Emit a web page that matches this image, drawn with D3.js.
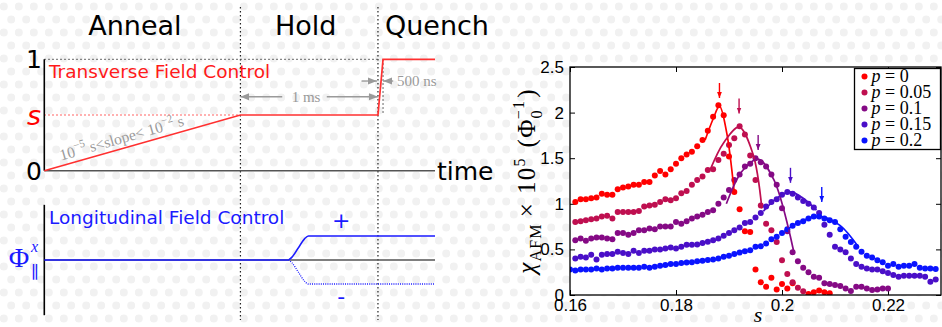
<!DOCTYPE html>
<html>
<head>
<meta charset="utf-8">
<script src="https://cdn.jsdelivr.net/npm/d3@7"></script>
<style>
  body { margin: 0; background: #fff; }
  svg { display: block; }
</style>
</head>
<body>
<div id="chart"></div>
<script>
// ---------- left: schematic protocol ----------
const phaseNames = ['Anneal', 'Hold', 'Quench'];
const phaseCenters = [23.2, 66.9, 100.5];
const phaseBounds = [50.2, 85.4];
const quenchEnd = 86.7;
const sLevel = 0.5;
const transverseT = [0, 50.2, 85.4, 86.7, 100];
const transverseS = [0, 0.5, 0.5, 1, 1];
const splitT = [62.5, 63.4, 65, 66.6, 67.6, 100];
const splitPhi = [0, 0.12, 0.5, 0.88, 1, 1];
const levelLabels = ['1', 's', '0'];
const levelValues = [1, 0.5, 0];

// ---------- right: susceptibility vs s ----------
const sStep = 0.001;
const pLabels = ['0', '0.05', '0.1', '0.15', '0.2'];
const seriesColors = ['#ff0000', '#bf0f50', '#850a85', '#4a0fc8', '#0a14ff'];
const seriesStart = [0.161, 0.161, 0.161, 0.161, 0.160];
const chiP0 = [1.02,1.05,1.05,1.06,1.07,1.11,1.10,1.10,1.16,1.18,
  1.19,1.21,1.21,1.24,1.24,1.31,1.36,1.32,1.38,1.44,
  1.50,1.54,1.57,1.63,1.70,1.80,1.955,2.08,1.97,1.52,
  1.13,0.94,0.70,0.69,0.28,0.14,0.09,0.19,0.06,0.12,
  0.07,0.13,null,null,0.01,0.03,0.05,0.03,0.02];
const chiP005 = [0.80,0.81,0.82,0.83,0.84,0.86,0.87,0.84,0.91,0.91,
  0.91,0.91,0.92,0.97,0.98,0.99,1.02,1.05,1.04,1.06,
  1.115,1.14,1.21,1.26,1.30,1.37,1.38,1.48,1.55,1.645,
  1.72,1.85,1.76,1.53,1.26,0.98,0.78,0.71,0.58,0.38,
  0.23,0.14,0.08,0.04];
const chiP01 = [0.60,0.62,0.595,0.62,0.63,0.63,0.62,0.61,0.68,0.68,
  0.66,0.68,0.71,0.71,0.73,0.72,0.75,0.75,0.75,0.80,
  0.78,0.81,0.84,0.86,0.88,0.91,0.93,1.00,1.07,1.15,
  1.26,1.32,1.41,1.44,1.50,1.455,1.41,1.32,1.21,0.95,
  0.70,0.47,0.37,0.30,0.25,0.20,0.19,0.13,0.12,0.11,
  0.10,0.07,0.045,0.09,0.09,0.07,0.055,0.06,0.07,0.07];
const chiP015 = [0.40,0.42,0.41,0.44,0.39,0.44,0.45,0.45,0.475,0.46,
  0.45,0.485,0.46,0.485,0.485,0.50,0.50,0.51,0.52,0.51,
  0.53,0.55,0.55,0.555,0.57,0.585,0.60,0.62,0.65,0.68,
  0.71,0.74,0.79,0.80,0.85,0.90,0.97,1.02,1.05,1.10,
  1.13,1.11,1.07,1.03,1.00,0.96,0.90,0.77,0.66,0.53,
  0.50,0.47,0.40,0.34,0.31,0.29,0.28,0.28,0.26,0.24,
  0.22,0.20,0.21,0.21,0.21,0.21,0.20,0.145,0.17];
const chiP02 = [0.28,0.27,0.28,0.28,0.28,0.29,0.28,0.29,0.29,0.30,
  0.30,0.30,0.30,0.30,0.31,0.30,0.31,0.32,0.33,0.34,
  0.34,0.35,0.355,0.36,0.37,0.375,0.385,0.39,0.40,0.42,
  0.43,0.45,0.465,0.48,0.49,0.53,0.535,0.565,0.61,0.64,
  0.68,0.72,0.76,0.79,0.81,0.84,0.86,0.86,0.84,0.82,
  0.80,0.72,0.64,0.58,0.53,0.475,0.43,0.41,0.38,0.36,
  0.32,0.34,0.31,0.32,0.32,0.34,0.30,0.29,0.29,0.285];
const chiSeries = [chiP0, chiP005, chiP01, chiP015, chiP02];

// fitted curves near each peak, [s, chi]
const fitP0 = [[0.1855, 1.70], [0.187, 1.93], [0.1882, 2.07], [0.1895, 1.80], [0.191, 1.12]];
const fitP005 = [[0.1865, 1.38], [0.189, 1.67], [0.1919, 1.84], [0.1945, 1.55], [0.1962, 0.95]];
const fitP01 = [[0.1895, 1.0], [0.1925, 1.36], [0.1955, 1.49], [0.1985, 1.26], [0.2022, 0.48]];
const fitP015 = [[0.1965, 0.92], [0.199, 1.06], [0.2015, 1.13], [0.204, 1.06], [0.2065, 0.93]];
const fitP02 = [[0.2005, 0.70], [0.204, 0.82], [0.2075, 0.86], [0.211, 0.76], [0.2145, 0.52]];
const fits = [fitP0, fitP005, fitP01, fitP015, fitP02];

const peakS = [0.1882, 0.1919, 0.1955, 0.2016, 0.2075];
const arrowTip = [2.16, 1.99, 1.59, 1.23, 1.02];

const xTicks = [0.16, 0.18, 0.2, 0.22];
const yTicks = [0, 0.5, 1, 1.5, 2, 2.5];

const W = 942, H = 327;
const sans = 'DejaVu Sans, sans-serif';
const serif = 'Liberation Serif, DejaVu Serif, serif';
const tickFont = 'Liberation Sans, Arial, sans-serif';

const svg = d3.select('#chart').append('svg').attr('width', W).attr('height', H);
const defs = svg.append('defs');

// faint polka-dot paper
const pat = defs.append('pattern').attr('id', 'dots').attr('patternUnits', 'userSpaceOnUse')
  .attr('width', 15).attr('height', 26);
pat.append('circle').attr('cx', 3.75).attr('cy', 6.5).attr('r', 4).attr('fill', '#f1f1f1');
pat.append('circle').attr('cx', 11.25).attr('cy', 19.5).attr('r', 4).attr('fill', '#f1f1f1');
svg.append('rect').attr('width', W).attr('height', H).attr('fill', '#fff');
svg.append('rect').attr('width', W).attr('height', H).attr('fill', 'url(#dots)');

function arrowMarker(id, color, size) {
  defs.append('marker').attr('id', id).attr('viewBox', '0 0 10 10')
    .attr('refX', 10).attr('refY', 5).attr('markerUnits', 'userSpaceOnUse')
    .attr('markerWidth', size).attr('markerHeight', size).attr('orient', 'auto')
    .append('path').attr('d', 'M0,1 L10,5 L0,9 Z').attr('fill', color);
}
arrowMarker('grayHead', '#9a9a9a', 9);

// ================= LEFT PANEL =================
const tX = d3.scaleLinear().domain([0, 100]).range([44.3, 435]);
const sY = d3.scaleLinear().domain([0, 1]).range([170.7, 59.3]);
const phiY = d3.scaleLinear().domain([-1, 1]).range([284, 236]);
const L = svg.append('g');
const dotted = '1.4,2.6';

L.selectAll('.phase').data(phaseNames).enter().append('text')
  .attr('x', (d, i) => tX(phaseCenters[i])).attr('y', 35)
  .attr('text-anchor', 'middle').attr('font-family', sans).attr('font-size', 27)
  .text(d => d);

L.selectAll('.bound').data(phaseBounds).enter().append('line')
  .attr('x1', d => tX(d)).attr('x2', d => tX(d)).attr('y1', 7).attr('y2', 320)
  .attr('stroke', '#222').attr('stroke-width', 1.2).attr('stroke-dasharray', dotted);

// reference dotted levels
L.append('line').attr('x1', tX(0)).attr('x2', tX(phaseBounds[1])).attr('y1', sY(1)).attr('y2', sY(1))
  .attr('stroke', '#555').attr('stroke-width', 1.2).attr('stroke-dasharray', dotted);
L.append('line').attr('x1', tX(quenchEnd)).attr('x2', tX(quenchEnd)).attr('y1', sY(1)).attr('y2', sY(sLevel))
  .attr('stroke', '#555').attr('stroke-width', 1.2).attr('stroke-dasharray', dotted);
L.append('line').attr('x1', tX(0)).attr('x2', tX(phaseBounds[0])).attr('y1', sY(sLevel)).attr('y2', sY(sLevel))
  .attr('stroke', '#ff2020').attr('stroke-width', 1.2).attr('stroke-dasharray', dotted);

// axes (top)
L.append('line').attr('x1', tX(0)).attr('x2', tX(100)).attr('y1', sY(0)).attr('y2', sY(0))
  .attr('stroke', '#555').attr('stroke-width', 1.6);
L.append('line').attr('x1', tX(0)).attr('x2', tX(0)).attr('y1', sY(0)).attr('y2', sY(1))
  .attr('stroke', '#000').attr('stroke-width', 1.6);

// transverse schedule
const tsLine = d3.line().x(d => tX(d[0])).y(d => sY(d[1]));
L.append('path').attr('d', tsLine(d3.zip(transverseT, transverseS)))
  .attr('fill', 'none').attr('stroke', '#ff3030').attr('stroke-width', 1.7);

L.selectAll('.lvl').data(levelLabels).enter().append('text')
  .attr('x', 34).attr('y', (d, i) => sY(levelValues[i]))
  .attr('dy', '0.36em').attr('text-anchor', 'middle')
  .attr('font-family', sans).attr('font-size', (d) => d === 's' ? 27 : 25)
  .attr('font-style', d => d === 's' ? 'italic' : 'normal')
  .attr('fill', d => d === 's' ? '#ff0000' : '#000')
  .text(d => d);

L.append('text').attr('x', 49).attr('y', 78).attr('font-family', sans).attr('font-size', 18.5)
  .attr('fill', '#ff1a1a').text('Transverse Field Control');

// slope annotation along the ramp
const ang = Math.atan2(sY(transverseS[1]) - sY(0), tX(transverseT[1]) - tX(0)) * 180 / Math.PI;
const slope = L.append('text').attr('transform', `translate(123,143) rotate(${ang})`)
  .attr('text-anchor', 'middle').attr('font-family', serif).attr('font-size', 15.5).attr('fill', '#9a9a9a');
slope.append('tspan').text('10');
slope.append('tspan').attr('dy', -7).attr('font-size', 11).text('−5');
slope.append('tspan').attr('dy', 7).text(' s<slope< 10');
slope.append('tspan').attr('dy', -7).attr('font-size', 11).text('−2');
slope.append('tspan').attr('dy', 7).text(' s');

// 1 ms hold duration
const msY = sY(0.664);
L.append('line').attr('x1', tX(60.9)).attr('x2', tX(phaseBounds[0])).attr('y1', msY).attr('y2', msY)
  .attr('stroke', '#9a9a9a').attr('stroke-width', 1.4).attr('marker-end', 'url(#grayHead)');
L.append('line').attr('x1', tX(72.3)).attr('x2', tX(phaseBounds[1])).attr('y1', msY).attr('y2', msY)
  .attr('stroke', '#9a9a9a').attr('stroke-width', 1.4).attr('marker-end', 'url(#grayHead)');
L.append('text').attr('x', tX(67)).attr('y', msY + 5).attr('text-anchor', 'middle')
  .attr('font-family', serif).attr('font-size', 15).attr('fill', '#9a9a9a').text('1 ms');

// 500 ns quench duration
const nsY = sY(0.805);
L.append('line').attr('x1', tX(81.2)).attr('x2', tX(phaseBounds[1]) - 1).attr('y1', nsY).attr('y2', nsY)
  .attr('stroke', '#9a9a9a').attr('stroke-width', 1.4).attr('marker-end', 'url(#grayHead)');
L.append('line').attr('x1', tX(89.3)).attr('x2', tX(quenchEnd)).attr('y1', nsY).attr('y2', nsY)
  .attr('stroke', '#9a9a9a').attr('stroke-width', 1.4).attr('marker-end', 'url(#grayHead)');
L.append('text').attr('x', tX(90.3)).attr('y', nsY + 5)
  .attr('font-family', serif).attr('font-size', 15).attr('fill', '#9a9a9a').text('500 ns');

L.append('text').attr('x', tX(100) + 2).attr('y', sY(0)).attr('dy', '0.36em')
  .attr('font-family', sans).attr('font-size', 25).text('time');

// bottom: longitudinal field
L.append('line').attr('x1', tX(0)).attr('x2', tX(100)).attr('y1', phiY(0)).attr('y2', phiY(0))
  .attr('stroke', '#555').attr('stroke-width', 1.6);
L.append('line').attr('x1', tX(0)).attr('x2', tX(0)).attr('y1', phiY(-2.3)).attr('y2', phiY(2.3))
  .attr('stroke', '#000').attr('stroke-width', 1.6);
L.append('path').attr('d', tsLine.y(d => phiY(d[1]))([[0, 0], [splitT[0], 0]]))
  .attr('fill', 'none').attr('stroke', '#1a1aff').attr('stroke-width', 1.7);
const phiLine = d3.line().x(d => tX(d[0])).y(d => phiY(d[1])).curve(d3.curveMonotoneX);
L.append('path').attr('d', phiLine(d3.zip(splitT, splitPhi)))
  .attr('fill', 'none').attr('stroke', '#1a1aff').attr('stroke-width', 1.5);
L.append('path').attr('d', phiLine(d3.zip(splitT, splitPhi.map(v => -v))))
  .attr('fill', 'none').attr('stroke', '#1a1aff').attr('stroke-width', 1.3).attr('stroke-dasharray', '1,1.2');

L.append('text').attr('x', 49).attr('y', 223.5).attr('font-family', sans).attr('font-size', 18.5)
  .attr('fill', '#1a1aff').text('Longitudinal Field Control');
L.append('text').attr('x', tX(76)).attr('y', phiY(1.65)).attr('dy', '0.36em').attr('text-anchor', 'middle')
  .attr('font-family', sans).attr('font-size', 22).attr('fill', '#1a1aff').text('+');
L.append('text').attr('x', tX(76)).attr('y', phiY(-1.5)).attr('dy', '0.36em').attr('text-anchor', 'middle')
  .attr('font-family', sans).attr('font-size', 22).attr('fill', '#1a1aff').text('-');
L.append('text').attr('x', 19).attr('y', phiY(0) + 7).attr('text-anchor', 'middle')
  .attr('font-family', serif).attr('font-size', 28).attr('fill', '#1a1aff').text('Φ');
L.append('text').attr('x', 31).attr('y', phiY(0) - 8).attr('font-family', serif)
  .attr('font-style', 'italic').attr('font-size', 16).attr('fill', '#1a1aff').text('x');
L.append('text').attr('x', 31).attr('y', phiY(0) + 18).attr('font-family', serif)
  .attr('font-size', 17).attr('fill', '#1a1aff').text('∥');

// ================= RIGHT PANEL =================
const x = d3.scaleLinear().domain([0.16, 0.23]).range([570, 941]);
const y = d3.scaleLinear().domain([0, 2.5]).range([295, 67]);
const R = svg.append('g');

R.append('rect').attr('x', 570).attr('y', 67).attr('width', 371).attr('height', 228).attr('fill', '#fff');
defs.append('clipPath').attr('id', 'plotClip').append('rect')
  .attr('x', 570).attr('y', 67).attr('width', 371).attr('height', 228);

const fmt = d => String(+d.toFixed(2));
R.append('g').attr('transform', 'translate(0,295)')
  .call(d3.axisBottom(x).tickValues(xTicks).tickFormat(fmt).tickSizeInner(-5).tickSizeOuter(0).tickPadding(4))
  .call(g => g.select('.domain').remove())
  .call(g => g.selectAll('text').attr('font-family', tickFont).attr('font-size', 17).attr('fill', '#000'));
R.append('g').attr('transform', 'translate(0,67)')
  .call(d3.axisTop(x).tickValues(xTicks).tickFormat('').tickSizeInner(-5).tickSizeOuter(0))
  .call(g => g.select('.domain').remove());
R.append('g').attr('transform', 'translate(570,0)')
  .call(d3.axisLeft(y).tickValues(yTicks).tickFormat(fmt).tickSizeInner(-5).tickSizeOuter(0).tickPadding(6))
  .call(g => g.select('.domain').remove())
  .call(g => g.selectAll('text').attr('font-family', tickFont).attr('font-size', 17).attr('fill', '#000'));
R.append('g').attr('transform', 'translate(941,0)')
  .call(d3.axisRight(y).tickValues(yTicks).tickFormat('').tickSizeInner(-5).tickSizeOuter(0))
  .call(g => g.select('.domain').remove());

const plot = R.append('g').attr('clip-path', 'url(#plotClip)');
chiSeries.forEach((vals, k) => {
  const pts = vals.map((v, i) => [seriesStart[k] + i * sStep, v]).filter(d => d[1] !== null);
  plot.append('g').selectAll('circle').data(pts).enter().append('circle')
    .attr('cx', d => x(d[0])).attr('cy', d => y(d[1])).attr('r', 3)
    .attr('fill', seriesColors[k]);
});
const fitLine = d3.line().x(d => x(d[0])).y(d => y(d[1])).curve(d3.curveCatmullRom);
fits.forEach((f, k) => {
  plot.append('path').attr('d', fitLine(f)).attr('fill', 'none')
    .attr('stroke', seriesColors[k]).attr('stroke-width', 1.7);
});

// peak arrows
peakS.forEach((s, k) => {
  arrowMarker('head' + k, seriesColors[k], 6);
  R.append('line').attr('x1', x(s)).attr('x2', x(s))
    .attr('y1', y(arrowTip[k]) - 15).attr('y2', y(arrowTip[k]))
    .attr('stroke', seriesColors[k]).attr('stroke-width', 1.4)
    .attr('marker-end', `url(#head${k})`);
});

R.append('rect').attr('x', 570).attr('y', 67).attr('width', 371).attr('height', 228)
  .attr('fill', 'none').attr('stroke', '#000').attr('stroke-width', 1.3);

// legend
const leg = R.append('g').attr('transform', 'translate(854.5,68.5)');
leg.append('rect').attr('width', 86).attr('height', 81).attr('fill', '#fff')
  .attr('stroke', '#000').attr('stroke-width', 1.3);
const rows = leg.selectAll('.row').data(pLabels).enter().append('g')
  .attr('transform', (d, i) => `translate(0,${8 + i * 16})`);
rows.append('circle').attr('cx', 10).attr('cy', 0).attr('r', 3).attr('fill', (d, i) => seriesColors[i]);
const lt = rows.append('text').attr('x', 17).attr('y', 5.5).attr('font-family', serif).attr('font-size', 18);
lt.append('tspan').attr('font-style', 'italic').text('p');
lt.append('tspan').text(d => ' = ' + d);

// axis titles
R.append('text').attr('x', 758).attr('y', 322).attr('text-anchor', 'middle')
  .attr('font-family', serif).attr('font-style', 'italic').attr('font-size', 22).text('s');
const yl = R.append('text').attr('transform', 'translate(535,181) rotate(-90)')
  .attr('text-anchor', 'middle').attr('font-family', serif).attr('font-size', 25)
  .attr('letter-spacing', 1.2);
yl.append('tspan').attr('font-style', 'italic').text('χ');
yl.append('tspan').attr('dy', 6).attr('font-size', 16).text('AFM');
yl.append('tspan').attr('dy', -6).attr('dx', 6).text('×');
yl.append('tspan').attr('dx', 8).text('10');
yl.append('tspan').attr('dy', -10).attr('font-size', 16).text('5');
yl.append('tspan').attr('dy', 10).attr('dx', 10).text('(Φ');
yl.append('tspan').attr('dy', 7).attr('font-size', 16).text('0');
yl.append('tspan').attr('dx', -10).attr('dy', -18).attr('font-size', 16).text('−1');
yl.append('tspan').attr('dy', 11).attr('dx', 2).text(')');
</script>
</body>
</html>
